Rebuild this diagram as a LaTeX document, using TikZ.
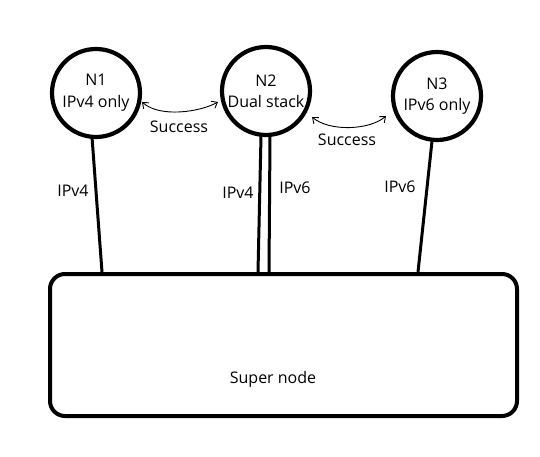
\documentclass[tikz,border=0pt]{standalone}
\usepackage{fontspec}
\setmainfont{Open Sans}
\usetikzlibrary{arrows.meta}
\begin{document}
\begin{tikzpicture}[x=1pt,y=-1pt,
  peer/.style={circle,draw,line width=4.2pt,minimum size=88pt,inner sep=0pt,align=center,font=\fontsize{16}{21}\selectfont},
  link/.style={line width=3pt},
  lbl/.style={font=\fontsize{16}{19}\selectfont,inner sep=0pt},
  succ/.style={line width=0.9pt,{Straight Barb[length=5pt,width=8pt]}-{Straight Barb[length=5pt,width=8pt]}}]
\useasboundingbox (0,0) rectangle (540,457);
\fill[white] (0,0) rectangle (540,457);
\node[peer] (n1) at (96,93) {N1\\[1pt]IPv4 only};
\node[peer] (n2) at (266,91) {N2\\Dual stack};
\node[peer] (n3) at (437,96) {N3\\IPv6 only};
\draw[line width=4pt,rounded corners=15pt] (50,274) rectangle (517,416);
\node[lbl] (sn) at (273,379) {Super node};
\coordinate (b1) at (102,272);
\coordinate (b2a) at (258,272);
\coordinate (b2b) at (269,272);
\coordinate (b3) at (418,272);
\coordinate (t1) at (92,137);
\coordinate (t2a) at (261,136);
\coordinate (t2b) at (270,136);
\coordinate (t3) at (432,141);
\draw[link] (t1) -- (b1);
\draw[link] (t2a) -- (b2a);
\draw[link] (t2b) -- (b2b);
\draw[link] (t3) -- (b3);
\node[lbl] (l1) at (73,191) {IPv4};
\node[lbl] (l2) at (238,193) {IPv4};
\node[lbl] (l3) at (295,188) {IPv6};
\node[lbl] (l4) at (400,187) {IPv6};
\coordinate (a1s) at (142,102);
\coordinate (a1e) at (218,102);
\coordinate (a2s) at (312,117);
\coordinate (a2e) at (386,116);
\draw[succ] (a1s) .. controls (160,118) and (200,112) .. (a1e);
\draw[succ] (a2s) .. controls (330,132) and (370,130) .. (a2e);
\node[lbl] (s1) at (179,127) {Success};
\node[lbl] (s2) at (347,140) {Success};
\end{tikzpicture}
\end{document}
